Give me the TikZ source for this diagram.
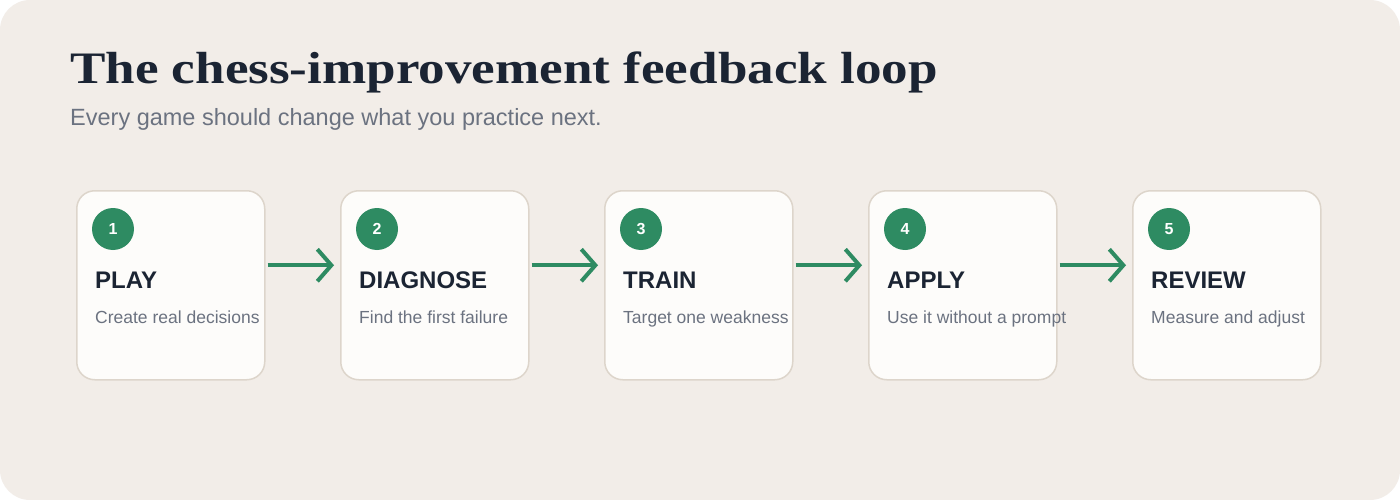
\documentclass[tikz,border=0pt]{standalone}
\usepackage{fontspec}
\setmainfont{Liberation Sans}
\newfontfamily\titlefont{Liberation Serif}
\usetikzlibrary{arrows.meta}
\definecolor{bg}{HTML}{F2EDE8}
\definecolor{boxfill}{HTML}{FDFCFA}
\definecolor{boxline}{HTML}{DDD5CB}
\definecolor{grn}{HTML}{2E8B62}
\definecolor{ink}{HTML}{1B2433}
\definecolor{muted}{HTML}{6B7280}
\tikzset{
  stepbox/.style={draw=boxline,line width=1.5pt,fill=boxfill,rounded corners=18pt,minimum width=188pt,minimum height=189pt,inner sep=0},
  badge/.style={circle,fill=grn,minimum size=42pt,inner sep=0,text=white,font=\fontsize{16}{16}\selectfont\bfseries},
  head/.style={anchor=base west,inner sep=0,text=ink,font=\fontsize{24}{24}\selectfont\bfseries},
  desc/.style={anchor=base west,inner sep=0,text=muted,font=\fontsize{17.5}{17.5}\selectfont},
  flow/.style={draw=grn,line width=4pt,-{Straight Barb[length=14pt,width=32pt,line width=4pt]},shorten <=2pt,shorten >=6pt}
}
\begin{document}
\begin{tikzpicture}[x=1pt,y=-1pt]
\fill[white] (0,0) rectangle (1400,500);
\fill[bg,rounded corners=30pt] (0,0) rectangle (1400,500);
\useasboundingbox (0,0) rectangle (1400,500);
\node[anchor=base west,inner sep=0,text=ink,font=\titlefont\fontsize{45}{45}\selectfont\bfseries] (title) at (70,84) {\scalebox{1.18}[1]{The chess-improvement feedback loop}};
\node[anchor=base west,inner sep=0,text=muted,font=\fontsize{23.5}{23.5}\selectfont] (sub) at (70,126) {Every game should change what you practice next.};
\foreach \i/\h/\d in {1/PLAY/Create real decisions,2/DIAGNOSE/Find the first failure,3/TRAIN/Target one weakness,4/APPLY/Use it without a prompt,5/REVIEW/Measure and adjust}{
  \pgfmathsetmacro\x{76+(\i-1)*264}
  \node[stepbox,anchor=north west] (b\i) at (\x,190) {};
  \node[badge] (c\i) at (\x+37,229) {\i};
  \node[head] (h\i) at (\x+19,288) {\h};
  \node[desc] (d\i) at (\x+19,323) {\d};
}
\foreach \a/\b in {1/2,2/3,3/4,4/5}{
  \draw[flow] ([yshift=20pt]b\a.east) -- ([yshift=20pt]b\b.west);
}
\end{tikzpicture}
\end{document}
